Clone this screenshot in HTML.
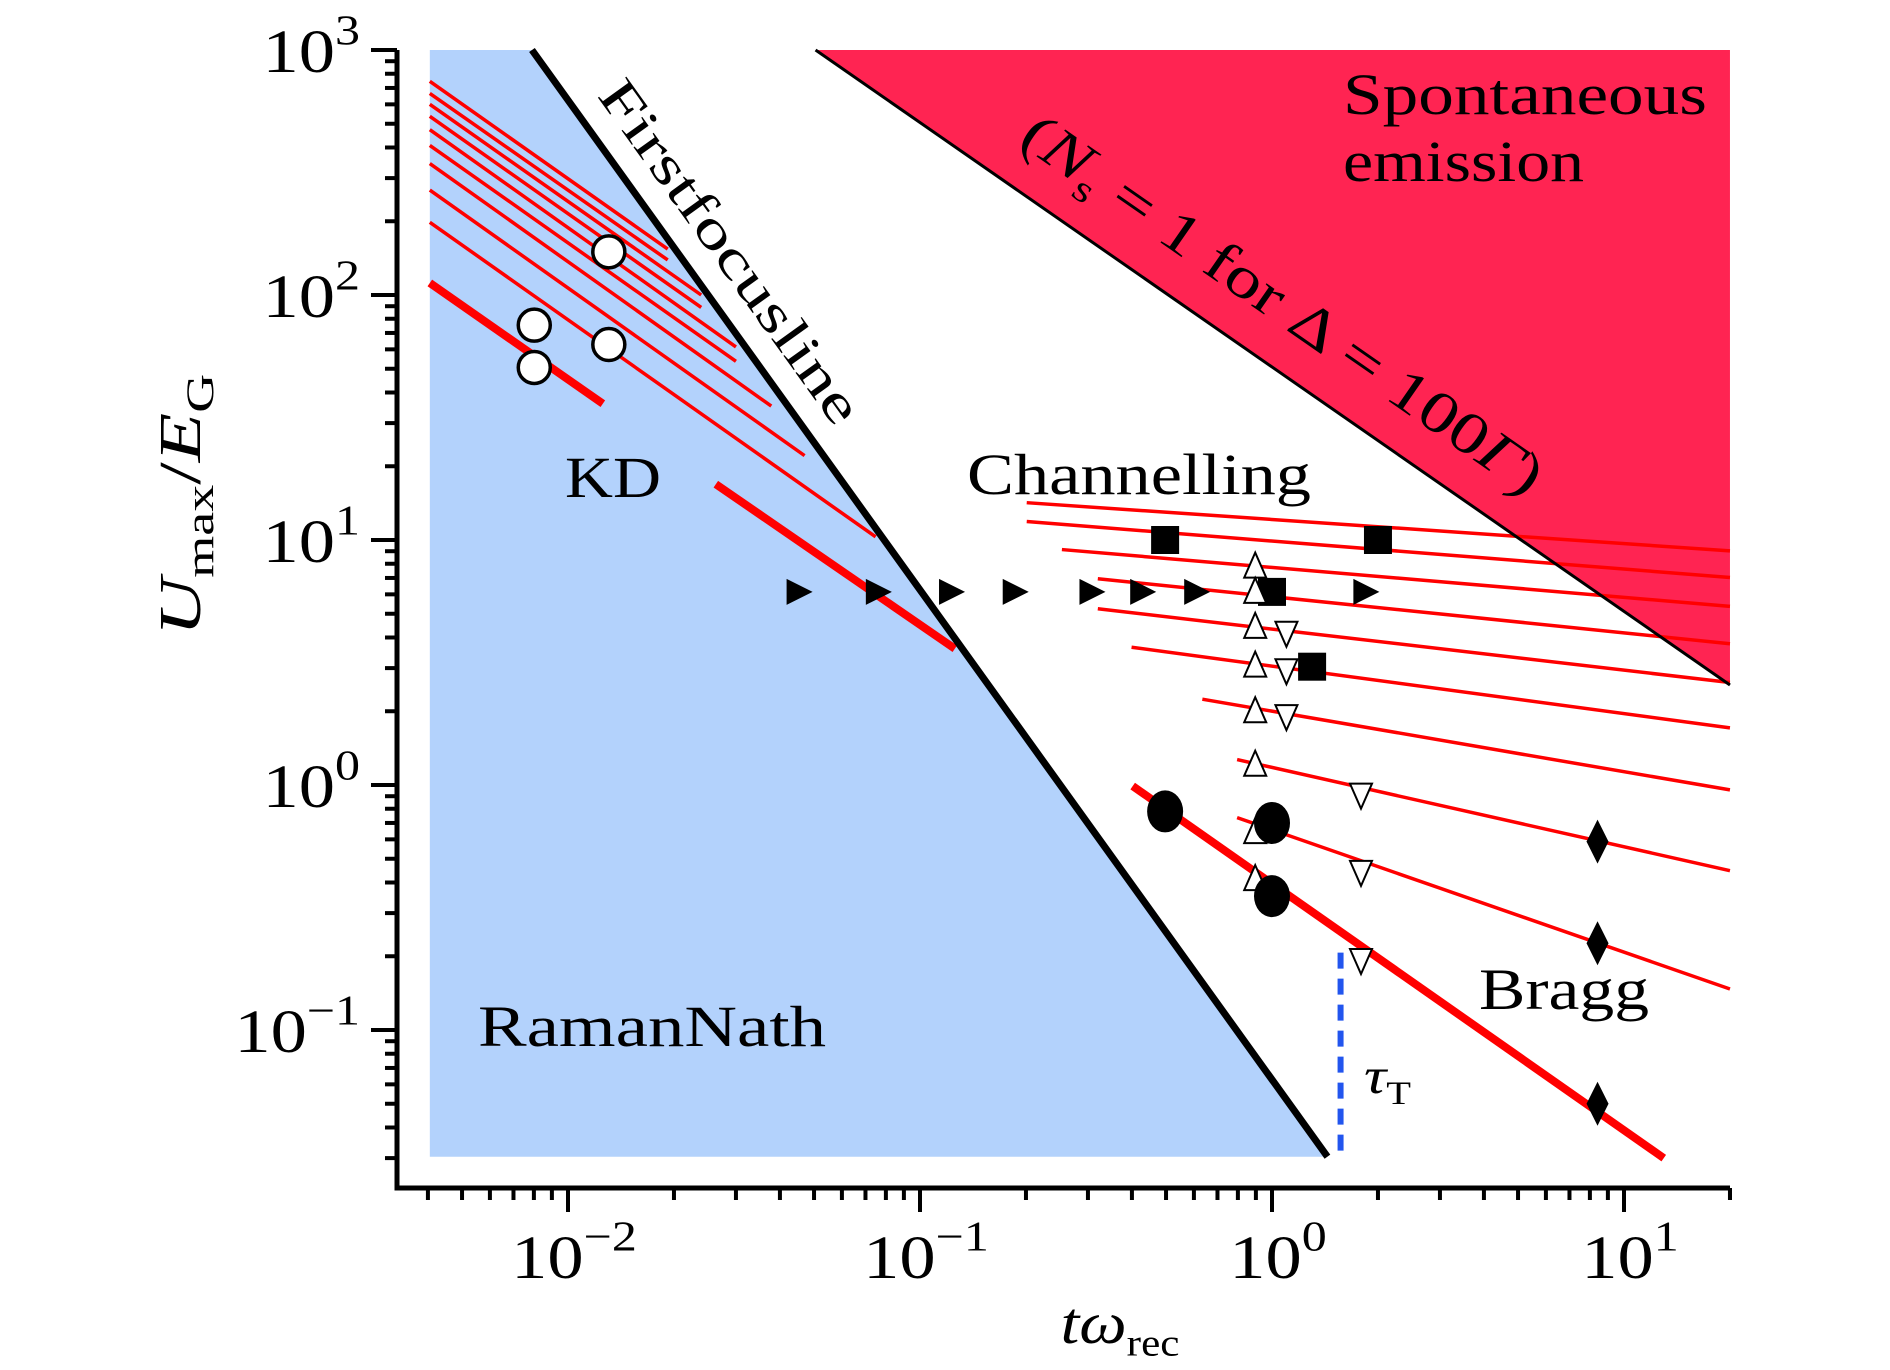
<!DOCTYPE html>
<html><head><meta charset="utf-8"><style>
html,body{margin:0;padding:0;background:#fff}
svg{display:block}
text{font-family:"Liberation Serif",serif;fill:#000}
</style></head><body>
<svg id="chart" width="1890" height="1370" viewBox="0 0 1890 1370" xmlns="http://www.w3.org/2000/svg">
<g id="regions"></g>
<g id="lines"></g>
<g id="markers"></g>
<g id="axes"></g>
<g id="labels">
<text x="1343" y="114" font-size="58" textLength="364" lengthAdjust="spacingAndGlyphs">Spontaneous</text>
<text x="1343" y="181" font-size="58" textLength="241" lengthAdjust="spacingAndGlyphs">emission</text>
<g transform="translate(1272,320) rotate(34.8) scale(1.3,1.05)"><text x="0" y="0" font-size="56" text-anchor="middle">(<tspan font-style="italic">N</tspan><tspan font-size="36" dy="12">s</tspan><tspan dy="-12"> = 1 for Δ = 100</tspan><tspan font-style="italic">Γ</tspan>)</text></g>
<text x="0" y="0" font-size="54" text-anchor="middle" textLength="410" lengthAdjust="spacingAndGlyphs" transform="translate(716,262) rotate(54.3)">Firstfocusline</text>
<text x="613" y="497" font-size="58" text-anchor="middle" textLength="96" lengthAdjust="spacingAndGlyphs">KD</text>
<text x="1139" y="494" font-size="58" text-anchor="middle" textLength="344" lengthAdjust="spacingAndGlyphs">Channelling</text>
<text x="652" y="1046" font-size="58" text-anchor="middle" textLength="348" lengthAdjust="spacingAndGlyphs">RamanNath</text>
<text x="1564" y="1009" font-size="58" text-anchor="middle" textLength="170" lengthAdjust="spacingAndGlyphs">Bragg</text>
<g transform="translate(1364,1093) scale(1.35,1.1)"><text x="0" y="0" font-size="46" font-style="italic">τ<tspan font-style="normal" font-size="30" dy="10">T</tspan></text></g>
<g transform="translate(1120,1343) scale(1.2,1.05)"><text x="0" y="0" font-size="56" text-anchor="middle"><tspan font-style="italic">tω</tspan><tspan font-size="36" dy="12">rec</tspan></text></g>
<g transform="translate(200,505) rotate(-90) scale(1.5,1.1)"><text x="0" y="0" font-size="54" text-anchor="middle"><tspan font-style="italic">U</tspan><tspan font-size="36" dy="12">max</tspan><tspan dy="-12">/</tspan><tspan font-style="italic">E</tspan><tspan font-size="36" dy="12">G</tspan></text></g>
</g>
</svg>
<script>
// ---- data ----
const xTicks = [0.01, 0.1, 1, 10];
const xTickExp = ['−2', '−1', '0', '1'];
const yTicks = [0.1, 1, 10, 100, 1000];
const yTickExp = ['−1', '0', '1', '2', '3'];
const ramanNathX = [0.00405, 0.0079, 1.437, 0.00405];
const ramanNathY = [1000, 1000, 0.0304, 0.0304];
const focusX = [0.0079, 1.437];
const focusY = [1000, 0.0304];
const spontX = [0.0505, 20, 20];
const spontY = [1000, 2.56, 1000];
const kdStartX = [0.00405, 0.00405, 0.00405, 0.00405, 0.00405, 0.00405, 0.00405, 0.00405, 0.00405];
const kdStartY = [745, 665, 600, 536, 473, 408, 344, 268, 198];
const kdEndX = [0.0192, 0.0192, 0.0239, 0.0239, 0.030, 0.030, 0.0378, 0.047, 0.0748];
const kdEndY = [154, 139, 100, 89, 61.4, 53.6, 35.2, 22.1, 10.3];
const chStartX = [0.201, 0.201, 0.253, 0.32, 0.32, 0.399, 0.634, 0.796, 0.796];
const chStartY = [14.2, 11.9, 9.14, 6.95, 5.24, 3.65, 2.24, 1.27, 0.736];
const chEndX = [20, 20, 20, 20, 20, 20, 20, 20, 20];
const chEndY = [9.03, 7.03, 5.36, 3.77, 2.62, 1.71, 0.955, 0.447, 0.147];
const thickStartX = [0.00405, 0.0263, 0.402];
const thickStartY = [112, 16.9, 0.99];
const thickEndX = [0.01256, 0.1256, 12.97];
const thickEndY = [36, 3.6, 0.030];
const tauX = [1.566];
const tauY = [0.207, 0.0304];
const openCircX = [0.01306, 0.00802, 0.01306, 0.00802];
const openCircY = [150, 75.3, 62.8, 50.6];
const rightTriX = [0.0449, 0.0754, 0.1217, 0.1846, 0.305, 0.425, 0.605, 1.83];
const rightTriY = [6.14, 6.14, 6.14, 6.14, 6.14, 6.14, 6.14, 6.14];
const squareX = [0.497, 2.0, 1.0, 1.30];
const squareY = [10, 10, 6.14, 3.04];
const upTriX = [0.896, 0.896, 0.896, 0.896, 0.896, 0.896, 0.896, 0.896];
const upTriY = [7.79, 6.14, 4.42, 3.07, 2.0, 1.21, 0.642, 0.413];
const downTriX = [1.099, 1.099, 1.099, 1.79, 1.79, 1.79];
const downTriY = [4.18, 2.94, 1.91, 0.913, 0.442, 0.193];
const dotX = [0.497, 1.0, 1.0];
const dotY = [0.78, 0.70, 0.352];
const diamondX = [8.41, 8.41, 8.41];
const diamondY = [0.587, 0.226, 0.050];

// ---- axes ----
const X = v => 568 + 352 * (Math.log10(v) + 2);
const Y = v => 50 + 245 * (3 - Math.log10(v));
const NS = 'http://www.w3.org/2000/svg';
function mk(parent, tag, attrs) {
  const e = document.createElementNS(NS, tag);
  for (const k in attrs) e.setAttribute(k, attrs[k]);
  (typeof parent === 'string' ? document.getElementById(parent) : parent).appendChild(e);
  return e;
}
function pts(xs, ys) { return xs.map((x, i) => X(x) + ',' + Y(ys[i])).join(' '); }

let e;
e = mk('regions', 'polygon', {points: pts(ramanNathX, ramanNathY), fill: '#b3d2fc'});


e = mk('regions', 'polygon', {points: pts(spontX, spontY), fill: '#ff2452'});



kdStartX.forEach((x, i) => {
  const l = mk('lines', 'line', {x1: X(x), y1: Y(kdStartY[i]), x2: X(kdEndX[i]), y2: Y(kdEndY[i]), stroke: '#ff0000', 'stroke-width': 3.5});
  
  
});
chStartX.forEach((x, i) => {
  const l = mk('lines', 'line', {x1: X(x), y1: Y(chStartY[i]), x2: X(chEndX[i]), y2: Y(chEndY[i]), stroke: '#ff0000', 'stroke-width': 3.5});
  
  
});
thickStartX.forEach((x, i) => {
  const l = mk('lines', 'line', {x1: X(x), y1: Y(thickStartY[i]), x2: X(thickEndX[i]), y2: Y(thickEndY[i]), stroke: '#ff0000', 'stroke-width': 8});
  
  
});
e = mk('lines', 'line', {x1: X(spontX[0]), y1: Y(spontY[0]), x2: X(spontX[1]), y2: Y(spontY[1]), stroke: '#000', 'stroke-width': 3});


e = mk('lines', 'line', {x1: X(focusX[0]), y1: Y(focusY[0]), x2: X(focusX[1]), y2: Y(focusY[1]), stroke: '#000', 'stroke-width': 7});


e = mk('lines', 'line', {x1: X(tauX[0]), y1: Y(tauY[0]), x2: X(tauX[0]), y2: Y(tauY[1]), stroke: '#2255ee', 'stroke-width': 6, 'stroke-dasharray': '16,10'});



openCircX.forEach((x, i) => {
  const m = mk('markers', 'circle', {cx: X(x), cy: Y(openCircY[i]), r: 16, fill: '#fff', stroke: '#000', 'stroke-width': 3.5});
  
  
});
rightTriX.forEach((x, i) => {
  const cx = X(x), cy = Y(rightTriY[i]);
  const m = mk('markers', 'polygon', {points: `${cx-11},${cy-13} ${cx+15},${cy} ${cx-11},${cy+13}`, fill: '#000'});
  
  
});
squareX.forEach((x, i) => {
  const cx = X(x), cy = Y(squareY[i]);
  const m = mk('markers', 'rect', {x: cx - 14, y: cy - 14, width: 28, height: 28, fill: '#000'});
  
  
});
upTriX.forEach((x, i) => {
  const cx = X(x), cy = Y(upTriY[i]);
  const m = mk('markers', 'polygon', {points: `${cx},${cy-14} ${cx+11},${cy+11} ${cx-11},${cy+11}`, fill: '#fff', stroke: '#000', 'stroke-width': 2});
  
  
});
downTriX.forEach((x, i) => {
  const cx = X(x), cy = Y(downTriY[i]);
  const m = mk('markers', 'polygon', {points: `${cx-11},${cy-11} ${cx+11},${cy-11} ${cx},${cy+14}`, fill: '#fff', stroke: '#000', 'stroke-width': 2});
  
  
});
dotX.forEach((x, i) => {
  const m = mk('markers', 'ellipse', {cx: X(x), cy: Y(dotY[i]), rx: 18, ry: 21, fill: '#000'});
  
  
});
diamondX.forEach((x, i) => {
  const cx = X(x), cy = Y(diamondY[i]);
  const m = mk('markers', 'polygon', {points: `${cx},${cy-22} ${cx+11},${cy} ${cx},${cy+22} ${cx-11},${cy}`, fill: '#000'});
  
  
});

// axes spines & ticks
const xL = 397, xR = 1730, yT = 50, yB = 1188;
e = mk('axes', 'path', {d: `M${xL},${yT} L${xL},${yB} L${xR},${yB}`, fill: 'none', stroke: '#000', 'stroke-width': 5});


for (let d = -3; d <= 1; d++) {
  for (let k = 1; k <= 9; k++) {
    const v = k * Math.pow(10, d);
    const px = X(v);
    if (px < xL + 10 || px > xR + 1) continue;
    const len = k === 1 ? 24 : 12;
    const t = mk('axes', 'line', {x1: px, y1: yB, x2: px, y2: yB + len, stroke: '#000', 'stroke-width': 4});
    
    
  }
}
{ const t = mk('axes', 'line', {x1: xR, y1: yB, x2: xR, y2: yB + 12, stroke: '#000', 'stroke-width': 4});
  
   }
for (let d = -2; d <= 3; d++) {
  for (let k = 1; k <= 9; k++) {
    const v = k * Math.pow(10, d);
    const py = Y(v);
    if (py > yB - 5 || py < yT - 1) continue;
    const len = k === 1 ? 26 : 12;
    const t = mk('axes', 'line', {x1: xL, y1: py, x2: xL - len, y2: py, stroke: '#000', 'stroke-width': 4});
    
    
  }
}
xTicks.forEach((v, i) => {
  const g = mk('axes', 'g', {transform: `translate(${X(v) + 6},1278) scale(1.25,1.05)`});
  const t = mk(g, 'text', {x: 0, y: 0, 'font-size': 58, 'text-anchor': 'middle'});
  
  
  t.innerHTML = `10<tspan font-size="40" dy="-26">${xTickExp[i]}</tspan>`;
});
yTicks.forEach((v, i) => {
  const g = mk('axes', 'g', {transform: `translate(360,${Y(v) + 22}) scale(1.25,1.05)`});
  const t = mk(g, 'text', {x: 0, y: 0, 'font-size': 58, 'text-anchor': 'end'});
  
  
  t.innerHTML = `10<tspan font-size="40" dy="-26">${yTickExp[i]}</tspan>`;
});
</script>
</body></html>
